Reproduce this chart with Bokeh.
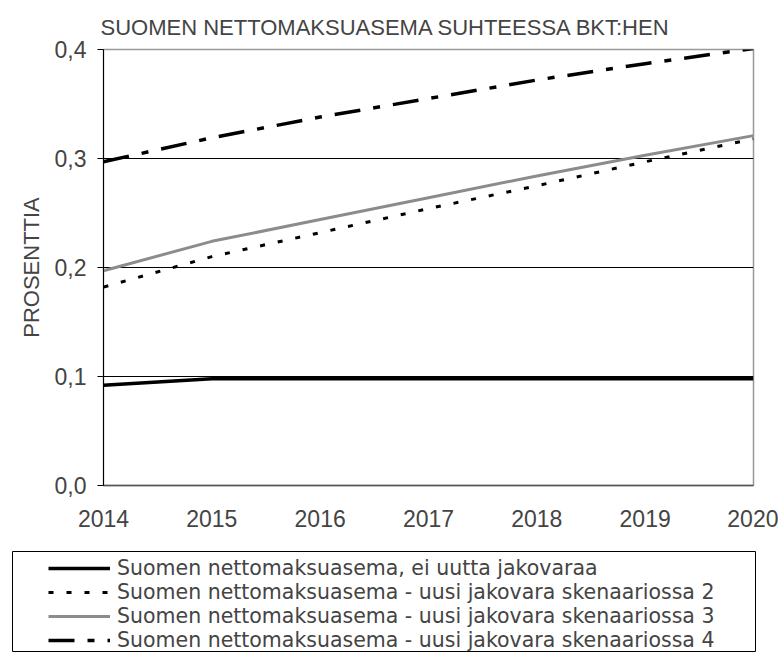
from bokeh.plotting import figure
from bokeh.models import FixedTicker, CustomJSTickFormatter, Legend, LegendItem, Range1d
from bokeh.embed import file_html
from bokeh.resources import INLINE

years = [2014, 2015, 2016, 2017, 2018, 2019, 2020]
s_base = [0.092, 0.098, 0.098, 0.098, 0.098, 0.098, 0.098]
s_sc2 = [0.182, 0.210, 0.232, 0.254, 0.275, 0.297, 0.318]
s_sc3 = [0.197, 0.224, 0.244, 0.264, 0.284, 0.303, 0.321]
s_sc4 = [0.297, 0.319, 0.338, 0.355, 0.372, 0.387, 0.401]
labels = [
    "Suomen nettomaksuasema, ei uutta jakovaraa",
    "Suomen nettomaksuasema - uusi jakovara skenaariossa 2",
    "Suomen nettomaksuasema - uusi jakovara skenaariossa 3",
    "Suomen nettomaksuasema - uusi jakovara skenaariossa 4",
]
y_ticks = [0.0, 0.1, 0.2, 0.3, 0.4]
title_text = "SUOMEN NETTOMAKSUASEMA SUHTEESSA BKT:HEN"
y_label = "PROSENTTIA"

FONT = "Liberation Sans"
series = [s_base, s_sc2, s_sc3, s_sc4]
styles = [
    dict(line_color="black", line_width=3.5),
    dict(line_color="black", line_width=3, line_dash="5 13"),
    dict(line_color="#8c8c8c", line_width=3),
    dict(line_color="black", line_width=3.5, line_dash="26 13 7 13"),
]

p = figure(width=778, height=540, output_backend="svg", toolbar_location=None,
           x_range=(2014, 2020), y_range=(0, 0.4),
           min_border_left=103, min_border_right=25, min_border_top=49, min_border_bottom=55)
p.title.text = title_text
p.title.text_font = FONT
p.title.text_font_size = "22px"
p.title.text_font_style = "normal"
p.title.offset = -3
p.title.standoff = 20

for s, st in zip(series, styles):
    p.line(years, s, **st)

p.xaxis.ticker = FixedTicker(ticks=years)
p.xaxis.major_tick_line_color = None
p.xaxis.minor_tick_line_color = None
p.xaxis.axis_line_color = "#555555"
p.xaxis.axis_line_width = 1.5
p.xaxis.major_label_text_font = FONT
p.xaxis.major_label_text_font_size = "23px"
p.xaxis.major_label_standoff = 18

p.yaxis.ticker = FixedTicker(ticks=y_ticks)
p.yaxis.formatter = CustomJSTickFormatter(code="return tick.toFixed(1).replace('.', ',');")
p.yaxis.major_tick_in = 0
p.yaxis.major_tick_out = 6
p.yaxis.minor_tick_line_color = None
p.yaxis.axis_line_color = "black"
p.yaxis.major_label_text_font = FONT
p.yaxis.major_label_text_font_size = "23px"
p.yaxis.major_label_standoff = 11
p.yaxis.axis_label = y_label
p.yaxis.axis_label_text_font = FONT
p.yaxis.axis_label_text_font_size = "22px"
p.yaxis.axis_label_text_font_style = "normal"
p.yaxis.axis_label_standoff = 8

p.xgrid.grid_line_color = None
p.ygrid.ticker = FixedTicker(ticks=[0.1, 0.2, 0.3])
p.ygrid.grid_line_color = "black"
p.ygrid.grid_line_width = 1
p.outline_line_color = "#999999"
p.outline_line_width = 1.5

# legend panel (separate root so its frame is not aligned to the chart's frame);
# its frame outline is the legend box
p2 = figure(width=778, height=112, output_backend="svg", toolbar_location=None,
            x_range=Range1d(0, 1), y_range=Range1d(0, 1),
            x_axis_type=None, y_axis_type=None,
            min_border_left=12, min_border_right=23, min_border_top=11, min_border_bottom=0)
p2.grid.visible = False
p2.outline_line_color = "black"
p2.outline_line_width = 1
rs = [p2.line(years, s, **st) for s, st in zip(series, styles)]

legend = Legend(items=[LegendItem(label=l, renderers=[r]) for l, r in zip(labels, rs)],
                location=(36, 0), padding=0, spacing=0, margin=0,
                glyph_width=62, glyph_height=22, label_height=22, label_standoff=7,
                label_text_font="DejaVu Sans", label_text_font_size="20.5px",
                border_line_alpha=0, background_fill_alpha=0)
p2.add_layout(legend, "center")

open("out.html", "w").write(file_html([p, p2], INLINE))
